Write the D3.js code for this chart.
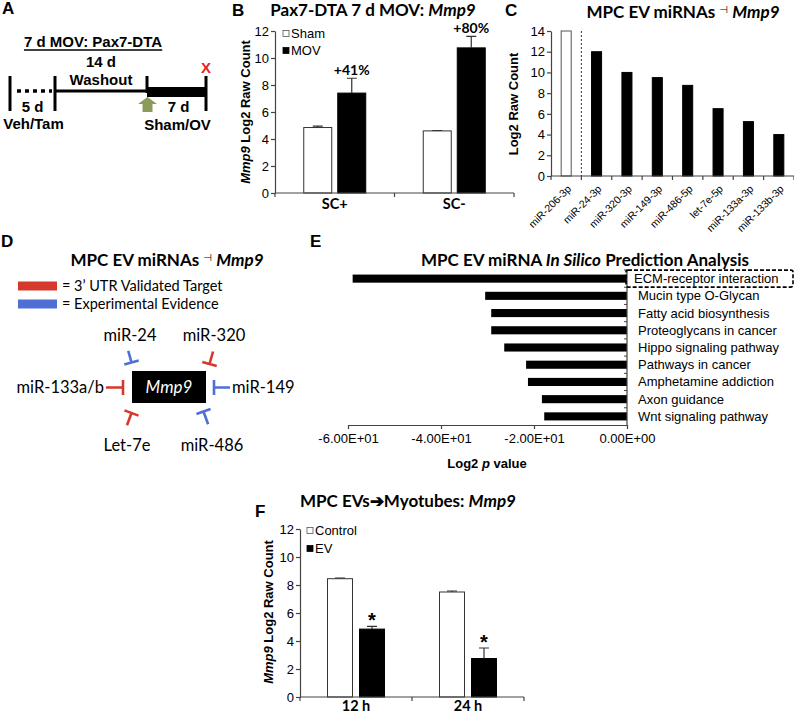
<!DOCTYPE html>
<html><head><meta charset="utf-8">
<script src="https://cdn.jsdelivr.net/npm/d3@7"></script>
<style>
body{margin:0;background:#fff;}
svg{display:block;}
</style></head><body>
<svg id="fig" width="794" height="714" font-family="'Liberation Sans', Arial, sans-serif"></svg>
<script>
// ================= DATA =================
const aTitle = "7 d MOV: Pax7-DTA";
const aStages = ["5 d", "14 d", "7 d"];
const aStageNotes = ["Veh/Tam", "Washout", "Sham/OV"];

const bCategories = ["SC+", "SC-"];
const bSeries = ["Sham", "MOV"];
const bSham = [4.85, 4.6];
const bShamErr = [0.1, 0.03];
const bMov = [7.4, 10.75];
const bMovErr = [1.1, 0.85];
const bChange = ["+41%", "+80%"];
const bTicks = [0, 2, 4, 6, 8, 10, 12];

const cMirnas = ["miR-206-3p", "miR-24-3p", "miR-320-3p", "miR-149-3p", "miR-486-5p", "let-7e-5p", "miR-133a-3p", "miR-133b-3p"];
const cValues = [14, 12, 10, 9.5, 8.75, 6.5, 5.25, 4];
const cTicks = [0, 2, 4, 6, 8, 10, 12, 14];

const dLegend = ["= 3\u2019 UTR Validated Target", "= Experimental Evidence"];
const dMirnas = ["miR-24", "miR-320", "miR-133a/b", "miR-149", "Let-7e", "miR-486"];
const dEvidence = ["exp", "utr", "utr", "exp", "utr", "exp"];

const ePathways = ["ECM-receptor interaction", "Mucin type O-Glycan", "Fatty acid biosynthesis", "Proteoglycans in cancer", "Hippo signaling pathway", "Pathways in cancer", "Amphetamine addiction", "Axon guidance", "Wnt signaling pathway"];
const eValues = [-59, -30.5, -29.2, -29.2, -26.4, -21.7, -21.3, -18.3, -17.8];
const eTicks = [-60, -40, -20, 0];

const fCategories = ["12 h", "24 h"];
const fSeries = ["Control", "EV"];
const fControl = [8.45, 7.5];
const fControlErr = [0.05, 0.07];
const fEV = [4.85, 2.75];
const fEVErr = [0.2, 0.75];
const fTicks = [0, 2, 4, 6, 8, 10, 12];

// ================= HELPERS =================
const svg = d3.select("#fig");
const CAL = "Lato, 'Open Sans', sans-serif";
const ARIAL = "'Liberation Sans', Arial, sans-serif";
const AXC = "#444";
const RED = "#d5392c", BLUE = "#4f6fd6";

function panelLetter(t, x, y) {
  svg.append("text").attr("x", x).attr("y", y).attr("font-family", ARIAL)
    .attr("font-weight", "bold").attr("font-size", 17).text(t);
}
function yAxis(y, ticks, x) {
  const ax = svg.append("g").attr("transform", `translate(${x},0)`)
    .call(d3.axisLeft(y).tickValues(ticks).tickSize(4).tickSizeOuter(0).tickPadding(2))
    .attr("font-family", ARIAL).attr("font-size", 13);
  ax.select(".domain").attr("stroke", AXC).attr("stroke-width", 1.2);
  ax.selectAll(".tick line").attr("stroke", AXC).attr("stroke-width", 1.2);
  ax.selectAll(".tick text").attr("fill", "#000");
  return ax;
}
function catAxis(x, yPos) {
  const g = svg.append("g");
  const [r0, r1] = x.range();
  g.append("line").attr("x1", r0).attr("x2", r1).attr("y1", yPos).attr("y2", yPos)
    .attr("stroke", AXC).attr("stroke-width", 1.2);
  const n = x.domain().length;
  g.selectAll("line.tk").data(d3.range(n + 1)).join("line").attr("class", "tk")
    .attr("x1", i => r0 + i * x.step()).attr("x2", i => r0 + i * x.step())
    .attr("y1", yPos).attr("y2", yPos + 4).attr("stroke", AXC).attr("stroke-width", 1.2);
  return g;
}
function yLabel(parts, cx, cy) {
  const t = svg.append("text").attr("transform", `translate(${cx},${cy}) rotate(-90)`)
    .attr("text-anchor", "middle").attr("dy", "0.35em").attr("font-family", ARIAL)
    .attr("font-weight", "bold").attr("font-size", 13);
  parts.forEach(p => t.append("tspan").attr("font-style", p.i ? "italic" : null).text(p.t));
}
function title(parts, cx, y) {
  const t = svg.append("text").attr("x", cx).attr("y", y).attr("text-anchor", "middle")
    .attr("font-family", CAL).attr("font-weight", "bold").attr("font-size", 17);
  parts.forEach(p => {
    const s = t.append("tspan").text(p.t);
    if (p.i) s.attr("font-style", "italic");
    if (p.sym) s.attr("font-size", 10).attr("font-weight", "normal").attr("font-family", "'DejaVu Sans'").attr("dy", -5);
    if (p.back) s.attr("dy", 5);
  });
}
function groupedChart(o) {
  const y = d3.scaleLinear().domain([0, 12]).range([o.y0, o.y12]);
  const x0 = d3.scaleBand().domain(o.cats).range([o.xl, o.xr]);
  const groupW = 2 * o.bw + o.gap;
  const x1 = d3.scaleBand().domain(o.series).range([0, groupW]).paddingInner(o.gap / (o.bw + o.gap));
  const off = (x0.bandwidth() - groupW) / 2;
  const vals = [o.v0, o.v1], errs = [o.e0, o.e1];
  o.series.forEach((s, si) => {
    const g = svg.append("g");
    g.selectAll("rect").data(o.cats).join("rect")
      .attr("x", (c) => x0(c) + off + x1(s))
      .attr("y", (c, i) => y(vals[si][i]))
      .attr("width", x1.bandwidth())
      .attr("height", (c, i) => y(0) - y(vals[si][i]))
      .attr("fill", si === 0 ? "#fff" : "#000")
      .attr("stroke", si === 0 ? "#333" : "#000").attr("stroke-width", 1);
    g.selectAll("path.err").data(o.cats).join("path").attr("class", "err")
      .attr("d", (c, i) => {
        const cx = x0(c) + off + x1(s) + x1.bandwidth() / 2;
        const yt = y(vals[si][i] + errs[si][i]), yb = y(vals[si][i]);
        return `M${cx},${yb}V${yt}M${cx - 5},${yt}H${cx + 5}`;
      })
      .attr("stroke", "#333").attr("stroke-width", 1.2).attr("fill", "none");
  });
  yAxis(y, o.ticks, o.xl);
  catAxis(x0, y(0));
  svg.append("g").selectAll("text").data(o.cats).join("text")
    .attr("x", c => x0(c) + x0.bandwidth() / 2).attr("y", y(0) + o.labDy)
    .attr("text-anchor", "middle").attr("font-family", CAL).attr("font-weight", "bold")
    .attr("font-size", 14.5).text(c => c);
  // legend
  const lg = svg.append("g");
  o.series.forEach((s, si) => {
    const ly = o.legY + si * o.legDy;
    lg.append("rect").attr("x", o.xl + o.legDx).attr("y", ly - 3).attr("width", 6).attr("height", 6)
      .attr("fill", si === 0 ? "#fff" : "#000").attr("stroke", si === 0 ? "#555" : "#000").attr("stroke-width", 0.8);
    lg.append("text").attr("x", o.xl + o.legDx + 8).attr("y", ly).attr("dy", "0.35em")
      .attr("font-family", ARIAL).attr("font-size", 13).text(s);
  });
  return { x0, x1, y, off };
}

// ================= PANEL A =================
panelLetter("A", 2, 14);
{
  const aX = d3.scaleLinear().domain([0, 1, 2, 3]).range([10, 55, 147, 206]);
  const t = svg.append("text").attr("x", (aX(0) + aX(3)) / 2 - 15).attr("y", 47).attr("text-anchor", "middle")
    .attr("font-family", ARIAL).attr("font-weight", "bold").attr("font-size", 15).text(aTitle);
  const bb = t.node().getBBox();
  svg.append("line").attr("x1", bb.x).attr("x2", bb.x + bb.width).attr("y1", 50).attr("y2", 50)
    .attr("stroke", "#000").attr("stroke-width", 1.3);
  const lineY = 91;
  svg.append("line").attr("x1", aX(0) + 7).attr("x2", aX(1) - 3).attr("y1", lineY).attr("y2", lineY)
    .attr("stroke", "#000").attr("stroke-width", 3.5).attr("stroke-dasharray", "4,4");
  svg.append("line").attr("x1", aX(1)).attr("x2", aX(2)).attr("y1", lineY).attr("y2", lineY)
    .attr("stroke", "#000").attr("stroke-width", 2.8);
  svg.append("rect").attr("x", aX(2)).attr("y", 87).attr("width", aX(3) - aX(2)).attr("height", 10).attr("fill", "#000");
  [0, 1, 2, 3].forEach(i => {
    svg.append("line").attr("x1", aX(i)).attr("x2", aX(i)).attr("y1", 76).attr("y2", i === 2 ? 93 : 111)
      .attr("stroke", "#000").attr("stroke-width", 3);
  });
  const mids = [0, 1, 2].map(i => (aX(i) + aX(i + 1)) / 2);
  const tA = (x, y, s) => svg.append("text").attr("x", x).attr("y", y).attr("text-anchor", "middle")
    .attr("font-family", ARIAL).attr("font-weight", "bold").attr("font-size", 15).text(s);
  tA(mids[0], 112, aStages[0]); tA(mids[0] + 1, 129, aStageNotes[0]);
  tA(mids[1], 67, aStages[1]); tA(mids[1], 85, aStageNotes[1]);
  tA(mids[2] + 2, 112, aStages[2]); tA(mids[2] + 1, 130, aStageNotes[2]);
  svg.append("text").attr("x", aX(3)).attr("y", 73).attr("text-anchor", "middle")
    .attr("font-family", ARIAL).attr("font-weight", "bold").attr("font-size", 15).attr("fill", "#e3241b").text("X");
  const ax2 = aX(2) + 0.5;
  svg.append("path").attr("d", `M${ax2},97L${ax2 + 9.5},104H${ax2 + 5}V112H${ax2 - 5}V104H${ax2 - 9.5}Z`)
    .attr("fill", "#8d9b5a");
}

// ================= PANEL B =================
panelLetter("B", 232, 16);
title([{ t: "Pax7-DTA 7 d MOV: " }, { t: "Mmp9", i: true }], 373, 16);
{
  const r = groupedChart({
    cats: bCategories, series: bSeries, v0: bSham, e0: bShamErr, v1: bMov, e1: bMovErr,
    ticks: bTicks, y0: 193, y12: 31, xl: 275, xr: 514, bw: 28, gap: 6,
    legY: 33.5, legDy: 17, legDx: 8, labDy: 16
  });
  svg.append("g").selectAll("text").data(bCategories).join("text")
    .attr("x", c => r.x0(c) + r.off + r.x1("MOV") + r.x1.bandwidth() / 2)
    .attr("y", (c, i) => r.y(bMov[i] + bMovErr[i]) - 3)
    .attr("text-anchor", "middle").attr("font-family", CAL).attr("font-weight", "bold")
    .attr("font-size", 14).text((c, i) => bChange[i]);
  yLabel([{ t: "Mmp9", i: true }, { t: " Log2 Raw Count" }], 245, 112);
}

// ================= PANEL C =================
panelLetter("C", 505, 16);
title([{ t: "MPC EV miRNAs " }, { t: "\u22A3", sym: true }, { t: " ", back: true }, { t: "Mmp9", i: true }], 683, 18);
{
  const y = d3.scaleLinear().domain([0, 14]).range([176, 31]);
  const x = d3.scaleBand().domain(cMirnas).range([551, 794]).paddingInner(0.67).paddingOuter(0.335);
  svg.append("g").selectAll("rect").data(cMirnas).join("rect")
    .attr("x", d => x(d)).attr("width", x.bandwidth())
    .attr("y", (d, i) => y(cValues[i])).attr("height", (d, i) => y(0) - y(cValues[i]))
    .attr("fill", (d, i) => i === 0 ? "#fff" : "#000")
    .attr("stroke", (d, i) => i === 0 ? "#555" : "#000").attr("stroke-width", 1);
  const xb = d3.scaleBand().domain(cMirnas).range([551, 794]);
  svg.append("line").attr("x1", xb(cMirnas[1])).attr("x2", xb(cMirnas[1]))
    .attr("y1", y(14)).attr("y2", y(0)).attr("stroke", "#333").attr("stroke-width", 1).attr("stroke-dasharray", "2,2");
  yAxis(y, cTicks, 551);
  catAxis(xb, y(0));
  svg.append("g").selectAll("text").data(cMirnas).join("text")
    .attr("transform", d => `translate(${xb(d) + xb.bandwidth() / 2 + 3},${y(0) + 11}) rotate(-45)`)
    .attr("text-anchor", "end").attr("dy", "0.35em").attr("font-family", ARIAL).attr("font-size", 10.5).text(d => d);
  yLabel([{ t: "Log2 Raw Count" }], 513, 104);
}

// ================= PANEL D =================
panelLetter("D", 1, 247);
title([{ t: "MPC EV miRNAs " }, { t: "\u22A3", sym: true }, { t: " ", back: true }, { t: "Mmp9", i: true }], 167, 266);
{
  const colorOf = { utr: RED, exp: BLUE };
  const legY = [286, 304];
  ["utr", "exp"].forEach((k, i) => {
    svg.append("rect").attr("x", 18).attr("y", legY[i] - 4.5).attr("width", 39).attr("height", 9).attr("fill", colorOf[k]);
    svg.append("text").attr("x", 62).attr("y", legY[i]).attr("dy", "0.35em").attr("font-family", CAL)
      .attr("font-size", 14.5).text(dLegend[i]);
  });
  const box = { x: 132, y: 371, w: 74, h: 32 };
  svg.append("rect").attr("x", box.x).attr("y", box.y).attr("width", box.w).attr("height", box.h).attr("fill", "#000");
  svg.append("text").attr("x", box.x + box.w / 2).attr("y", box.y + box.h / 2).attr("dy", "0.36em")
    .attr("text-anchor", "middle").attr("font-family", CAL).attr("font-style", "italic").attr("font-size", 17)
    .attr("fill", "#fff").text("Mmp9");
  // inhibitor layout: tip point, direction (stem start -> tip), label position & anchor
  const layout = [
    { tip: [131.5, 362.5], dir: [3.5, 12.5], len: 12, lab: [130, 341], anchor: "middle" },
    { tip: [209.5, 364], dir: [-4, 14], len: 13, lab: [214, 341], anchor: "middle" },
    { tip: [123, 387.5], dir: [1, 0], len: 17, lab: [104, 393], anchor: "end" },
    { tip: [214, 387.5], dir: [-1, 0], len: 16, lab: [232, 393], anchor: "start" },
    { tip: [131.5, 413], dir: [4.8, -13], len: 13, lab: [127, 451], anchor: "middle" },
    { tip: [203.5, 411.5], dir: [-5, -13.7], len: 13.5, lab: [212, 451], anchor: "middle" }
  ];
  dMirnas.forEach((m, i) => {
    const L = layout[i];
    const dl = Math.hypot(L.dir[0], L.dir[1]);
    const ux = L.dir[0] / dl, uy = L.dir[1] / dl;
    const sx = L.tip[0] - ux * L.len, sy = L.tip[1] - uy * L.len;
    const hb = 7.5;
    svg.append("path")
      .attr("d", `M${sx},${sy}L${L.tip[0]},${L.tip[1]}M${L.tip[0] - uy * hb},${L.tip[1] + ux * hb}L${L.tip[0] + uy * hb},${L.tip[1] - ux * hb}`)
      .attr("stroke", colorOf[dEvidence[i]]).attr("stroke-width", 2.6).attr("fill", "none");
    svg.append("text").attr("x", L.lab[0]).attr("y", L.lab[1]).attr("text-anchor", L.anchor)
      .attr("font-family", CAL).attr("font-size", 16.5).text(m);
  });
}

// ================= PANEL E =================
panelLetter("E", 310, 247);
title([{ t: "MPC EV miRNA " }, { t: "In Silico", i: true }, { t: " Prediction Analysis" }], 585, 266);
{
  const x = d3.scaleLinear().domain([-60, 0]).range([348, 627]);
  const y = d3.scaleBand().domain(ePathways).range([270, 425]).paddingInner(0.53).paddingOuter(0.265);
  const yb = d3.scaleBand().domain(ePathways).range([270, 425]);
  svg.append("g").selectAll("rect").data(ePathways).join("rect")
    .attr("x", (d, i) => x(eValues[i])).attr("width", (d, i) => x(0) - x(eValues[i]))
    .attr("y", d => y(d)).attr("height", y.bandwidth()).attr("fill", "#000");
  const fmtE = v => v.toExponential(2).toUpperCase().replace(/E([+-])(\d)$/, "E$10$2");
  const ax = svg.append("g").attr("transform", `translate(0,425)`)
    .call(d3.axisBottom(x).tickValues(eTicks).tickFormat(fmtE).tickSize(4).tickSizeOuter(0).tickPadding(5))
    .attr("font-family", ARIAL).attr("font-size", 13);
  ax.select(".domain").attr("stroke", AXC).attr("stroke-width", 1.2);
  ax.selectAll(".tick line").attr("stroke", AXC).attr("stroke-width", 1.2);
  ax.selectAll(".tick text").attr("fill", "#000");
  svg.append("line").attr("x1", x(0)).attr("x2", x(0)).attr("y1", 270).attr("y2", 425)
    .attr("stroke", AXC).attr("stroke-width", 1.2);
  svg.append("g").selectAll("line").data(d3.range(ePathways.length)).join("line")
    .attr("x1", x(0) - 3).attr("x2", x(0)).attr("y1", i => 270 + i * yb.step()).attr("y2", i => 270 + i * yb.step())
    .attr("stroke", AXC).attr("stroke-width", 1);
  svg.append("g").selectAll("text").data(ePathways).join("text")
    .attr("x", (d, i) => i === 0 ? 634 : 638).attr("y", d => yb(d) + yb.bandwidth() / 2).attr("dy", "0.35em")
    .attr("font-family", ARIAL).attr("font-size", 13).text(d => d);
  const cy = yb(ePathways[0]) + yb.bandwidth() / 2;
  svg.append("rect").attr("x", 626).attr("y", cy - 8.5).attr("width", 167).attr("height", 17).attr("rx", 2)
    .attr("fill", "none").attr("stroke", "#000").attr("stroke-width", 1.6).attr("stroke-dasharray", "4,2");
  const lt = svg.append("text").attr("x", 487).attr("y", 463).attr("dy", "0.35em").attr("text-anchor", "middle")
    .attr("font-family", ARIAL).attr("font-weight", "bold").attr("font-size", 13);
  lt.append("tspan").text("Log2 ");
  lt.append("tspan").attr("font-style", "italic").text("p");
  lt.append("tspan").text(" value");
}

// ================= PANEL F =================
panelLetter("F", 255, 517);
title([{ t: "MPC EVs\u2794Myotubes: " }, { t: "Mmp9", i: true }], 408, 507);
{
  const r = groupedChart({
    cats: fCategories, series: fSeries, v0: fControl, e0: fControlErr, v1: fEV, e1: fEVErr,
    ticks: fTicks, y0: 697, y12: 529, xl: 300, xr: 524, bw: 25, gap: 7,
    legY: 530.5, legDy: 18, legDx: 7, labDy: 14
  });
  svg.append("g").selectAll("text").data(fCategories).join("text")
    .attr("x", c => r.x0(c) + r.off + r.x1("EV") + r.x1.bandwidth() / 2)
    .attr("y", (c, i) => r.y(fEV[i] + fEVErr[i]) + 1)
    .attr("text-anchor", "middle").attr("font-family", ARIAL).attr("font-weight", "bold")
    .attr("font-size", 20).text("*");
  yLabel([{ t: "Mmp9", i: true }, { t: " Log2 Raw Count" }], 268, 612);
}
</script>
</body></html>
